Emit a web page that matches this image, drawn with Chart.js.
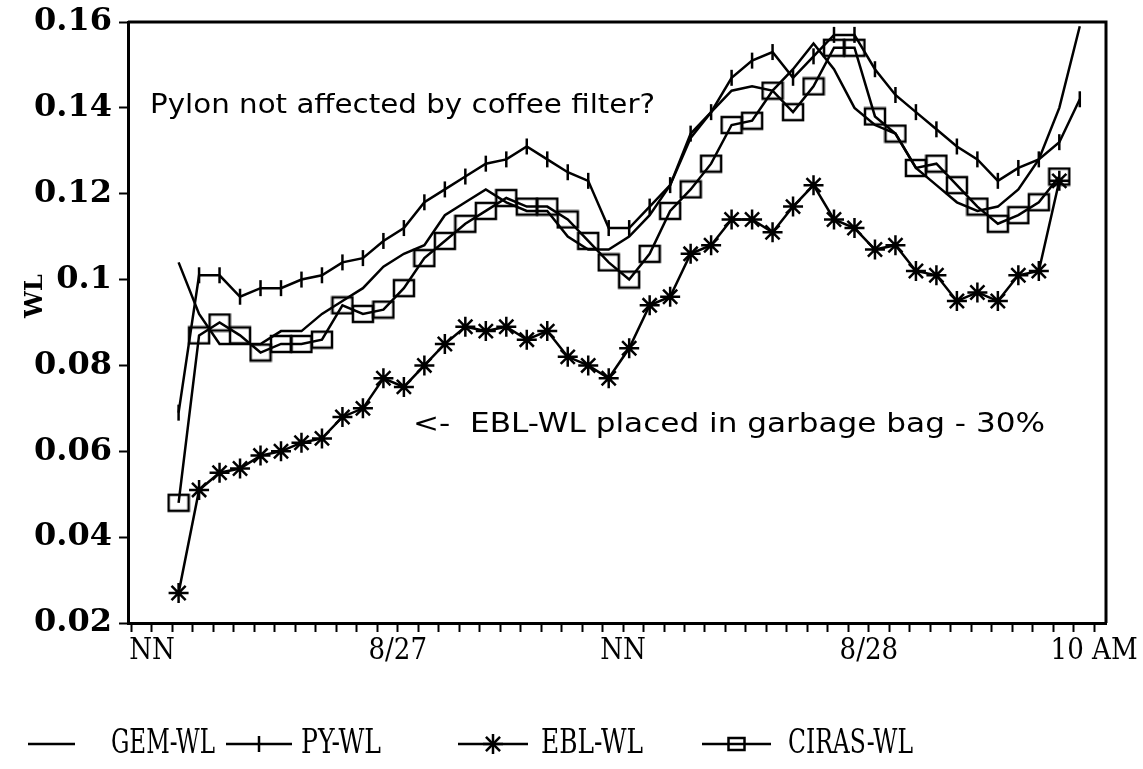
<!DOCTYPE html>
<html>
<head>
<meta charset="utf-8">
<script src="https://cdn.jsdelivr.net/npm/chart.js@4.4.1/dist/chart.umd.min.js"></script>
<style>
html, body { margin: 0; background: #fff; }
#wrap { width: 1143px; height: 769px; }
</style>
</head>
<body>
<div id="wrap"><canvas id="wlChart"></canvas></div>
<script>
// hours after the first noon (NN) for each reading
var hours = [1.3, 2.3, 3.3, 4.3, 5.3, 6.3, 7.3, 8.3, 9.3, 10.3, 11.3, 12.3, 13.3, 14.3, 15.3,
    16.3, 17.3, 18.3, 19.3, 20.3, 21.3, 22.3, 23.3, 24.3, 25.3, 26.3, 27.3, 28.3, 29.3, 30.3,
    31.3, 32.3, 33.3, 34.3, 35.3, 36.3, 37.3, 38.3, 39.3, 40.3, 41.3, 42.3, 43.3, 44.3, 45.3];

var gemWL = [0.104, 0.092, 0.085, 0.085, 0.085, 0.088, 0.088, 0.092, 0.095, 0.098, 0.103, 0.106,
    0.108, 0.115, 0.118, 0.121, 0.118, 0.116, 0.116, 0.110, 0.107, 0.107, 0.110, 0.115, 0.122,
    0.133, 0.139, 0.144, 0.145, 0.144, 0.149, 0.155, 0.149, 0.140, 0.136, 0.134, 0.126, 0.122,
    0.118, 0.116, 0.117, 0.121, 0.128, 0.140, 0.159];

var pyWL = [0.069, 0.101, 0.101, 0.096, 0.098, 0.098, 0.100, 0.101, 0.104, 0.105, 0.109, 0.112,
    0.118, 0.121, 0.124, 0.127, 0.128, 0.131, 0.128, 0.125, 0.123, 0.112, 0.112, 0.117, 0.122,
    0.134, 0.139, 0.147, 0.151, 0.153, 0.147, 0.152, 0.157, 0.157, 0.149, 0.143, 0.139, 0.135,
    0.131, 0.128, 0.123, 0.126, 0.128, 0.132, 0.142];

var eblWL = [0.027, 0.051, 0.055, 0.056, 0.059, 0.060, 0.062, 0.063, 0.068, 0.070, 0.077, 0.075,
    0.080, 0.085, 0.089, 0.088, 0.089, 0.086, 0.088, 0.082, 0.080, 0.077, 0.084, 0.094, 0.096,
    0.106, 0.108, 0.114, 0.114, 0.111, 0.117, 0.122, 0.114, 0.112, 0.107, 0.108, 0.102, 0.101,
    0.095, 0.097, 0.095, 0.101, 0.102, 0.123];

var cirasWL = [0.048, 0.087, 0.090, 0.087, 0.083, 0.085, 0.085, 0.086, 0.094, 0.092, 0.093, 0.098,
    0.105, 0.109, 0.113, 0.116, 0.119, 0.117, 0.117, 0.114, 0.109, 0.104, 0.100, 0.106, 0.116,
    0.121, 0.127, 0.136, 0.137, 0.144, 0.139, 0.145, 0.154, 0.154, 0.138, 0.134, 0.126, 0.127,
    0.122, 0.117, 0.113, 0.115, 0.118, 0.124];

var xTickHours = [0, 12, 23, 35, 46];
var xTickLabels = ['NN', '8/27', 'NN', '8/28', '10 AM'];
var seriesNames = ['GEM-WL', 'PY-WL', 'EBL-WL', 'CIRAS-WL'];

function toPoints(vals) {
    return vals.map(function (v, i) { return { x: hours[i], y: v }; });
}

// hollow rectangle marker for CIRAS
function boxMarker(w, h) {
    var c = document.createElement('canvas');
    c.width = w + 4; c.height = h + 4;
    var g = c.getContext('2d');
    g.strokeStyle = '#000';
    g.lineWidth = 2.5;
    g.strokeRect(2, 2, w, h);
    return c;
}
var cirasBox = boxMarker(20, 16);

// hourly minor ticks along x
var hourTicks = [];
for (var h = -1; h <= 46; h++) hourTicks.push({ value: h });

function fitText(ctx, txt, x, y, width) {
    var m = ctx.measureText(txt).width;
    ctx.save();
    ctx.translate(x, y);
    ctx.scale(width / m, 1);
    ctx.fillText(txt, 0, 0);
    ctx.restore();
}

var decor = {
    id: 'decor',
    afterDraw: function (chart) {
        var ctx = chart.ctx, a = chart.chartArea;
        ctx.save();
        ctx.strokeStyle = '#000';
        ctx.lineWidth = 3;
        ctx.beginPath();
        ctx.moveTo(a.left, a.top);
        ctx.lineTo(a.right, a.top);
        ctx.lineTo(a.right, a.bottom);
        ctx.stroke();

        ctx.fillStyle = '#000';
        ctx.textBaseline = 'middle';

        // y axis title
        ctx.save();
        ctx.translate(36, 296);
        ctx.rotate(-Math.PI / 2);
        ctx.textAlign = 'center';
        ctx.font = 'bold 24px "DejaVu Serif"';
        ctx.fillText('WL', 0, 0);
        ctx.restore();

        // notes inside the plot
        ctx.font = '26px "DejaVu Sans"';
        fitText(ctx, 'Pylon not affected by coffee filter?', 150, 106, 505);
        fitText(ctx, '<-  EBL-WL placed in garbage bag - 30%', 413, 425, 632);

        // legend
        var ly = 744;
        ctx.lineWidth = 2.5;
        var items = [
            { x1: 28, x2: 75, tx: 111, tw: 104 },
            { x1: 226, x2: 292, tx: 301, tw: 80 },
            { x1: 458, x2: 528, tx: 541, tw: 102 },
            { x1: 702, x2: 771, tx: 788, tw: 125 }
        ];
        items.forEach(function (it, i) {
            var cx = (it.x1 + it.x2) / 2;
            ctx.beginPath();
            ctx.moveTo(it.x1, ly);
            ctx.lineTo(it.x2, ly);
            ctx.stroke();
            if (i === 1) {
                ctx.beginPath(); ctx.moveTo(cx, ly - 8); ctx.lineTo(cx, ly + 8); ctx.stroke();
            } else if (i === 2) {
                for (var k = 0; k < 4; k++) {
                    var ang = k * Math.PI / 4;
                    ctx.beginPath();
                    ctx.moveTo(cx - 10 * Math.cos(ang), ly - 10 * Math.sin(ang));
                    ctx.lineTo(cx + 10 * Math.cos(ang), ly + 10 * Math.sin(ang));
                    ctx.stroke();
                }
            } else if (i === 3) {
                ctx.strokeRect(cx - 8, ly - 6, 16, 12);
            }
            ctx.font = '34px "DejaVu Serif Condensed"';
            fitText(ctx, seriesNames[i], it.tx, ly, it.tw);
        });
        ctx.restore();
    }
};

var ctx1 = document.getElementById('wlChart').getContext('2d');
var wlChart = new Chart(ctx1, {
    type: 'line',
    data: {
        datasets: [{
            label: seriesNames[0],
            data: toPoints(gemWL),
            borderColor: '#000',
            borderWidth: 2.5,
            pointRadius: 0
        }, {
            label: seriesNames[1],
            data: toPoints(pyWL),
            borderColor: '#000',
            borderWidth: 2.5,
            pointStyle: 'line',
            pointRotation: 90,
            pointRadius: 8,
            pointBorderWidth: 2.5,
            pointBorderColor: '#000'
        }, {
            label: seriesNames[2],
            data: toPoints(eblWL),
            borderColor: '#000',
            borderWidth: 2.5,
            pointStyle: 'star',
            pointRadius: 10,
            pointBorderWidth: 2.5,
            pointBorderColor: '#000'
        }, {
            label: seriesNames[3],
            data: toPoints(cirasWL),
            borderColor: '#000',
            borderWidth: 2.5,
            pointStyle: cirasBox,
            pointRadius: 10
        }]
    },
    options: {
        responsive: true,
        maintainAspectRatio: false,
        animation: false,
        layout: { padding: { top: 22, right: 37, left: 0, bottom: 0 } },
        plugins: {
            legend: { display: false },
            tooltip: { enabled: false }
        },
        scales: {
            x: {
                type: 'linear',
                min: -1.17,
                max: 46.58,
                afterBuildTicks: function (s) { s.ticks = hourTicks.slice(); },
                afterFit: function (s) { s.height = 146; s.paddingLeft = 0; s.paddingRight = 0; },
                ticks: {
                    autoSkip: false,
                    maxRotation: 0,
                    color: '#000',
                    padding: 2,
                    font: { family: 'DejaVu Serif Condensed', size: 29 },
                    callback: function (v) {
                        var k = xTickHours.indexOf(v);
                        return k >= 0 ? xTickLabels[k] : '';
                    }
                },
                grid: { drawOnChartArea: false, color: '#000', tickLength: 9, tickWidth: 2 },
                border: { color: '#000', width: 3 }
            },
            y: {
                min: 0.02,
                max: 0.16,
                afterFit: function (s) { s.width = 128; s.paddingTop = 0; s.paddingBottom = 0; },
                ticks: {
                    stepSize: 0.02,
                    color: '#000',
                    padding: 7,
                    font: { family: 'DejaVu Serif', size: 32, weight: 'bold' },
                    callback: function (v) { return String(+v.toFixed(2)); }
                },
                grid: { drawOnChartArea: false, color: '#000', tickLength: 9, tickWidth: 2 },
                border: { color: '#000', width: 3 }
            }
        }
    },
    plugins: [decor]
});
</script>
</body>
</html>
